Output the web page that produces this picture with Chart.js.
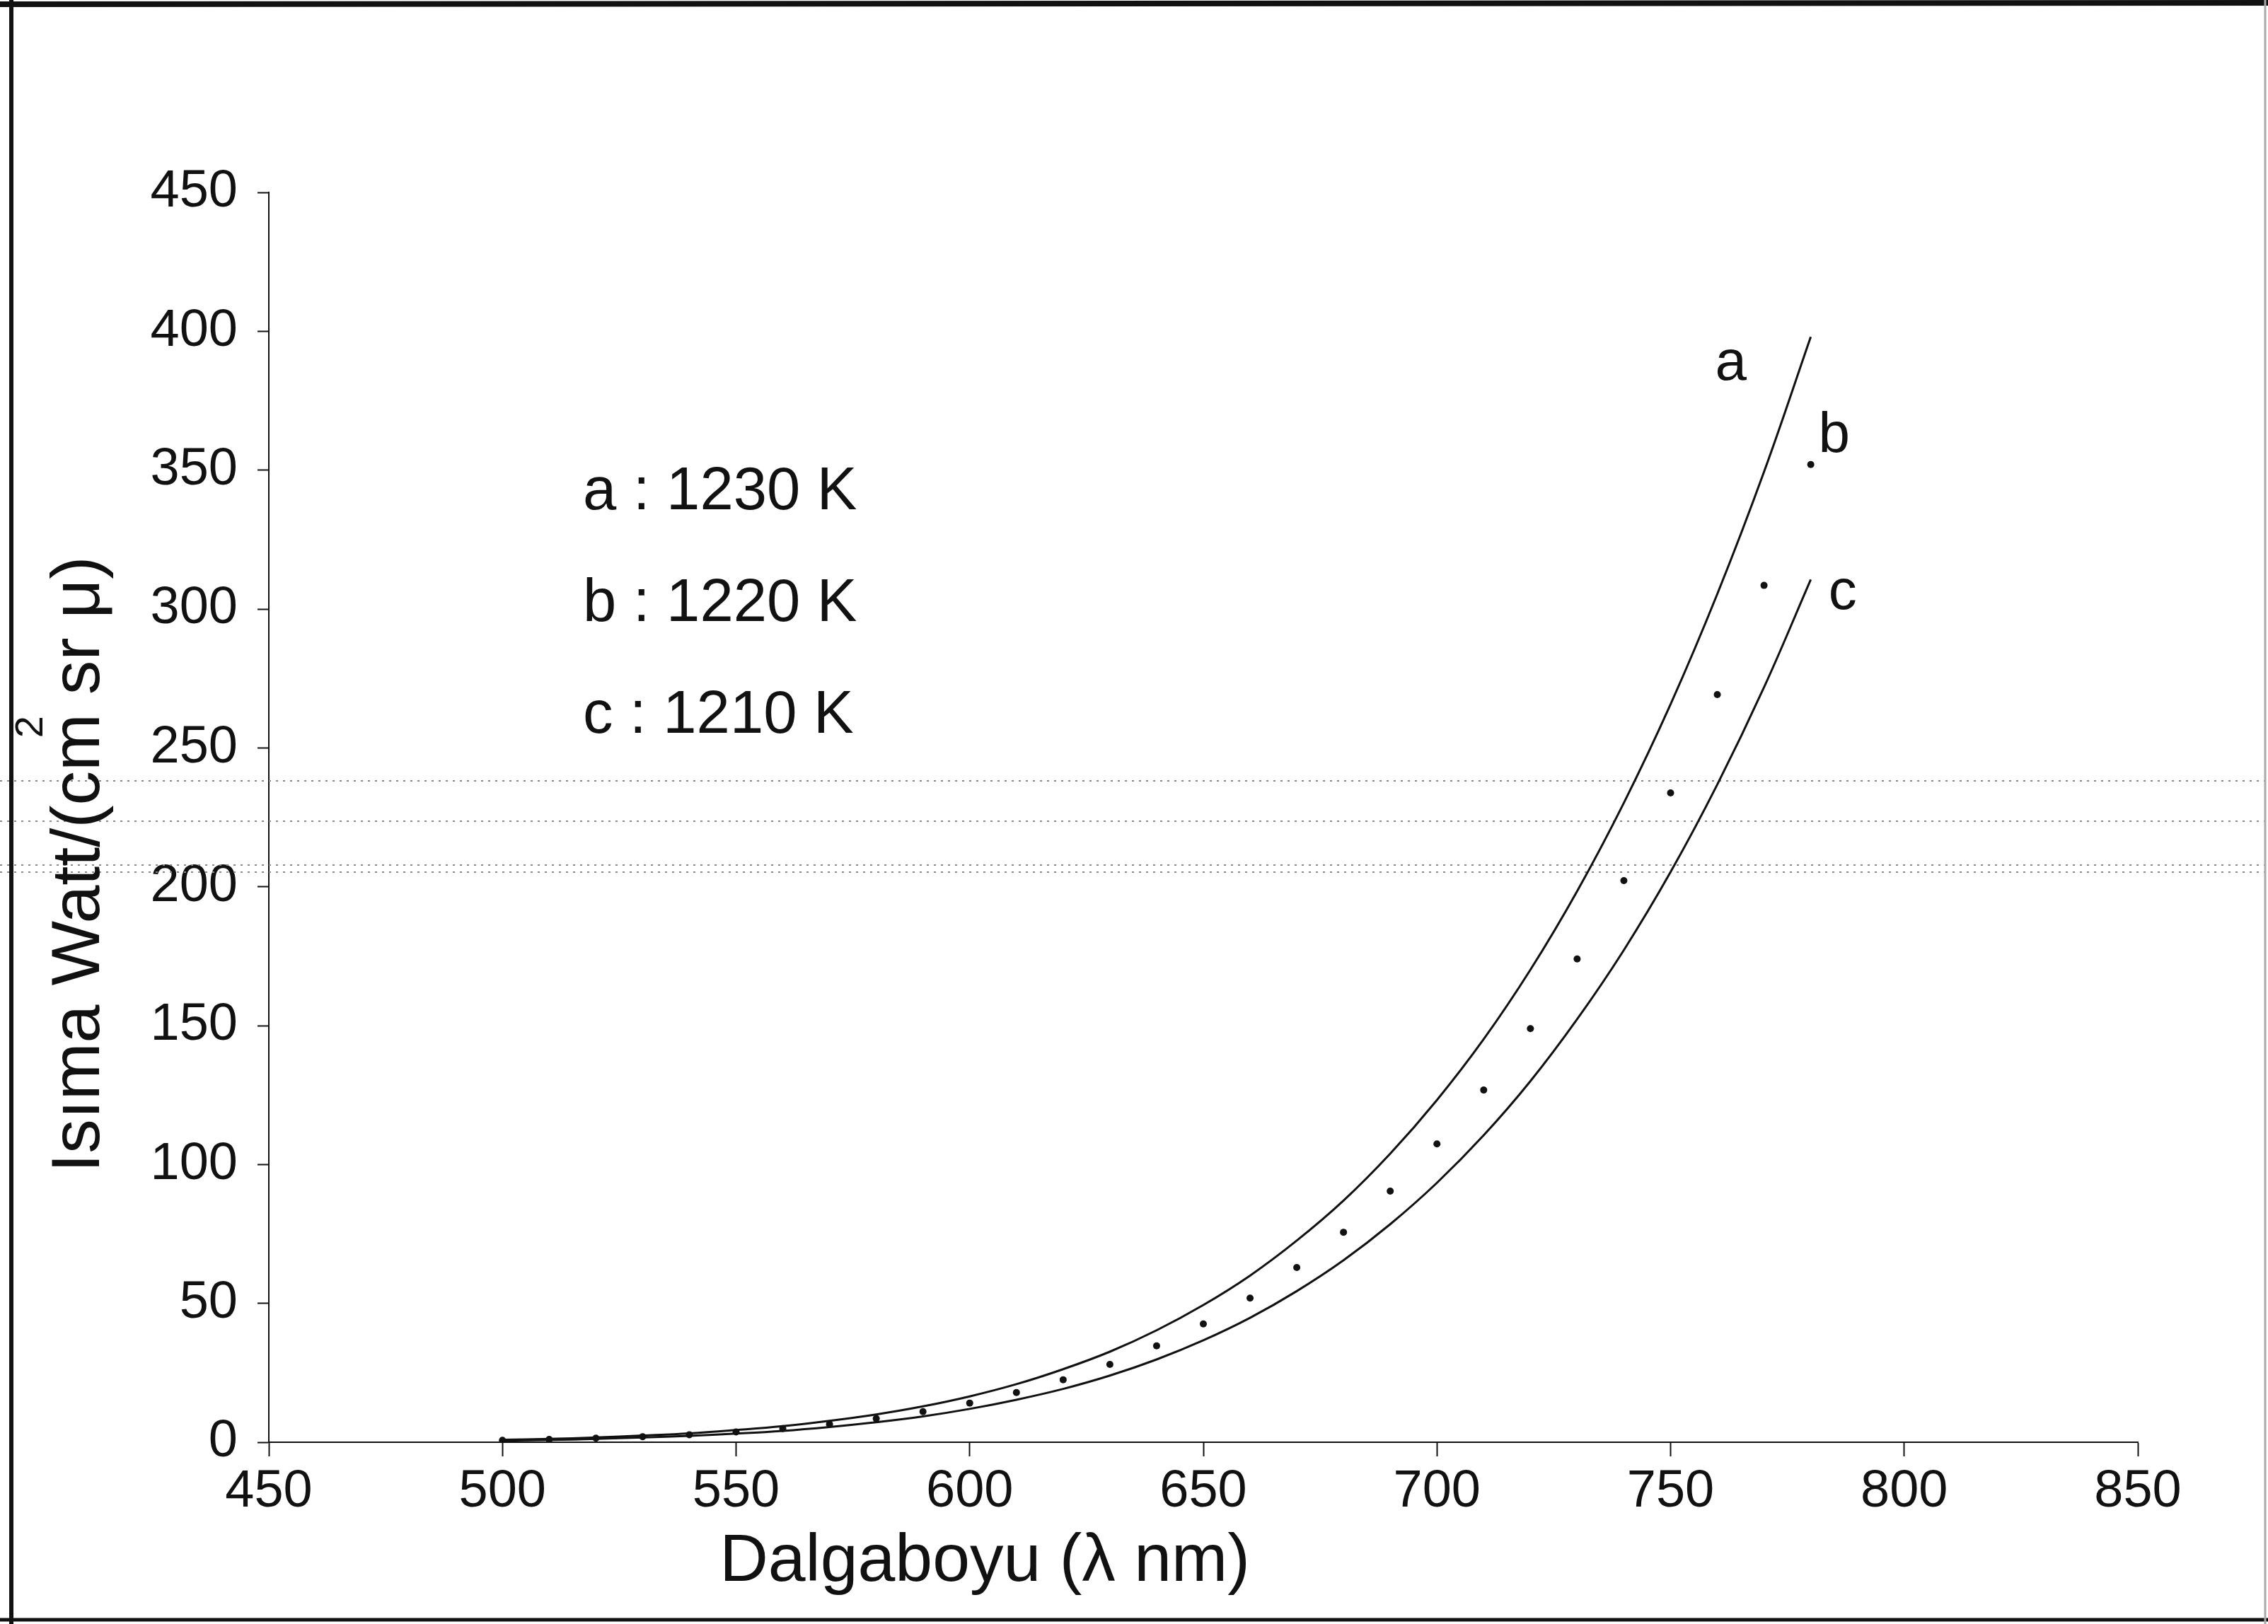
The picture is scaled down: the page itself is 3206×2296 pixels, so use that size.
<!DOCTYPE html>
<html>
<head>
<meta charset="utf-8">
<script src="https://cdn.jsdelivr.net/npm/chart.js@4/dist/chart.umd.min.js"></script>
<style>
  html, body { margin: 0; padding: 0; background: #fff; }
  #wrap { position: relative; width: 3206px; height: 2296px; }
</style>
</head>
<body>
<div id="wrap"><canvas id="chart"></canvas></div>
<script>
// wavelengths (nm) and radiance
const wavelengths = [500, 510, 520, 530, 540, 550, 560, 570, 580, 590, 600, 610, 620, 630, 640,
                     650, 660, 670, 680, 690, 700, 710, 720, 730, 740, 750, 760, 770, 780];
// a : 1230 K (solid)
const seriesA = [0.9, 1.2, 1.7, 2.4, 3.2, 4.4, 5.8, 7.7, 10.0, 12.9, 16.5, 20.9, 26.3, 32.6, 40.3,
                 49.4, 60.0, 72.6, 87.0, 103.9, 123.2, 145.1, 170.1, 198.4, 230.2, 265.7, 305.4, 349.4, 398];
// b : 1220 K (dots)
const seriesB = [0.7, 1.0, 1.45, 2.0, 2.7, 3.7, 4.9, 6.5, 8.5, 11.0, 14.1, 17.9, 22.5, 28.0, 34.7,
                 42.6, 51.9, 62.9, 75.6, 90.4, 107.4, 126.8, 148.9, 174.0, 202.2, 233.8, 269.2, 308.5, 352];
// c : 1210 K (solid)
const seriesC = [0.6, 0.8, 1.2, 1.7, 2.3, 3.1, 4.1, 5.5, 7.2, 9.3, 12.0, 15.3, 19.2, 24.0, 29.8,
                 36.7, 44.8, 54.4, 65.5, 78.5, 93.4, 110.5, 130.0, 152.3, 177.2, 205.3, 236.8, 271.8, 310.6];
const legendLines = ['a : 1230 K', 'b : 1220 K', 'c : 1210 K'];
const curveNames = ['a', 'b', 'c'];
const xTicks = [450, 500, 550, 600, 650, 700, 750, 800, 850];
const yTicks = [0, 50, 100, 150, 200, 250, 300, 350, 400, 450];
// faint dotted scan lines crossing the page (y values)
const scanLines = [238, 223.6, 207.8, 205.2];

const FONT = '"Liberation Sans", Arial, Helvetica, sans-serif';
const pts = arr => wavelengths.map((x, i) => ({ x, y: arr[i] }));

const overlay = {
  id: 'overlay',
  beforeDraw(chart) {
    const ctx = chart.ctx;
    ctx.save();
    ctx.fillStyle = '#fff';
    ctx.fillRect(0, 0, chart.width, chart.height);
    ctx.restore();
  },
  beforeDatasetsDraw(chart) {
    const ctx = chart.ctx, y = chart.scales.y;
    ctx.save();
    ctx.strokeStyle = '#888';
    ctx.lineWidth = 2;
    ctx.setLineDash([3, 7]);
    scanLines.forEach(v => {
      const py = Math.round(y.getPixelForValue(v));
      ctx.beginPath();
      ctx.moveTo(0, py);
      ctx.lineTo(chart.width, py);
      ctx.stroke();
    });
    ctx.restore();
  },
  afterDraw(chart) {
    const ctx = chart.ctx, xs = chart.scales.x, ys = chart.scales.y;
    ctx.save();
    ctx.fillStyle = '#111';

    // temperature key
    ctx.font = '85px ' + FONT;
    ctx.textBaseline = 'middle';
    ctx.textAlign = 'left';
    legendLines.forEach((t, i) => ctx.fillText(t, 824, 697 + i * 158));

    // curve labels next to the curve ends
    const n = wavelengths.length - 1;
    const ends = [seriesA[n], seriesB[n], seriesC[n]];
    const offs = [[-113, 39], [33, -40], [45, 20]];
    ctx.font = '80px ' + FONT;
    ctx.textAlign = 'center';
    curveNames.forEach((t, i) => {
      ctx.fillText(t, xs.getPixelForValue(wavelengths[n]) + offs[i][0],
                      ys.getPixelForValue(ends[i]) + offs[i][1]);
    });

    // x title
    ctx.font = '95px ' + FONT;
    ctx.textBaseline = 'alphabetic';
    ctx.fillText('Dalgaboyu (\u03bb nm)', 1392, 2235);

    // y title with superscript
    ctx.translate(140, 1222);
    ctx.rotate(-Math.PI / 2);
    ctx.textAlign = 'left';
    const p1 = 'Is\u0131ma Watt/(cm', p2 = ' sr \u03bc)';
    ctx.font = '97px ' + FONT;
    const w1 = ctx.measureText(p1).width, w2 = ctx.measureText(p2).width;
    const x0 = -(w1 + w2) / 2;
    ctx.fillText(p1, x0, 0);
    ctx.fillText(p2, x0 + w1, 0);
    ctx.font = '56px ' + FONT;
    ctx.fillText('2', x0 + w1 - 34, -80);
    ctx.restore();

    // scanned frame
    ctx.save();
    ctx.strokeStyle = '#111';
    ctx.lineWidth = 6;
    ctx.beginPath(); ctx.moveTo(16, 0); ctx.lineTo(16, chart.height); ctx.stroke();
    ctx.lineWidth = 8;
    ctx.beginPath(); ctx.moveTo(0, 6); ctx.lineTo(chart.width, 4); ctx.stroke();
    ctx.lineWidth = 5;
    ctx.beginPath(); ctx.moveTo(0, 2290); ctx.lineTo(chart.width, 2290); ctx.stroke();
    ctx.strokeStyle = '#aaa';
    ctx.lineWidth = 3;
    ctx.beginPath(); ctx.moveTo(3202, 0); ctx.lineTo(3202, chart.height); ctx.stroke();
    ctx.restore();
  }
};

new Chart(document.getElementById('chart'), {
  type: 'line',
  data: {
    datasets: [
      { label: 'a', data: pts(seriesA), borderColor: '#111', borderWidth: 3,
        pointRadius: 0, tension: 0.4, fill: false },
      { label: 'b', data: pts(seriesB), showLine: false, pointRadius: 5,
        pointBackgroundColor: '#111', pointBorderWidth: 0, borderColor: '#111' },
      { label: 'c', data: pts(seriesC), borderColor: '#111', borderWidth: 3,
        pointRadius: 0, tension: 0.4, fill: false }
    ]
  },
  options: {
    responsive: true,
    maintainAspectRatio: false,
    devicePixelRatio: 1,
    animation: false,
    layout: { padding: { left: 0, right: 184, top: 272, bottom: 0 } },
    plugins: { legend: { display: false }, tooltip: { enabled: false } },
    scales: {
      x: {
        type: 'linear', min: 450, max: 850,
        afterFit: s => { s.height = 257; },
        afterBuildTicks: s => { s.ticks = xTicks.map(v => ({ value: v })); },
        grid: { drawOnChartArea: false, tickLength: 20, tickColor: '#111', tickWidth: 2 },
        border: { color: '#111', width: 2 },
        ticks: { color: '#111', padding: 6, maxRotation: 0, autoSkip: false,
                 font: { family: FONT, size: 74 } }
      },
      y: {
        min: 0, max: 450,
        afterFit: s => { s.width = 380; },
        afterBuildTicks: s => { s.ticks = yTicks.map(v => ({ value: v })); },
        grid: { drawOnChartArea: false, tickLength: 16, tickColor: '#111', tickWidth: 2 },
        border: { color: '#111', width: 2 },
        ticks: { color: '#111', padding: 28, font: { family: FONT, size: 74 } }
      }
    }
  },
  plugins: [overlay]
});
</script>
</body>
</html>
